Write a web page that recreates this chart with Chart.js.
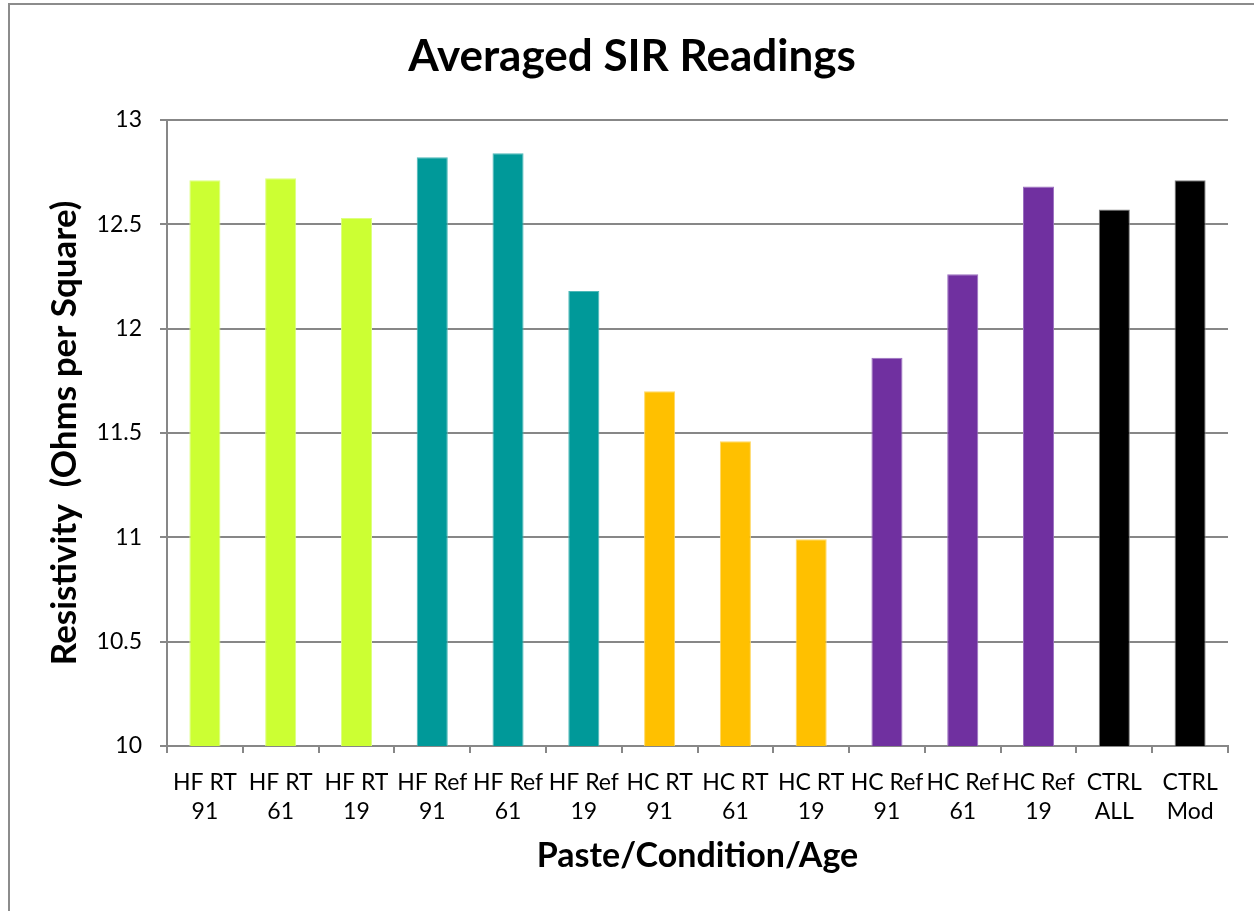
<!DOCTYPE html>
<html>
<head>
<meta charset="utf-8">
<script src="https://cdn.jsdelivr.net/npm/chart.js@4"></script>
<style>
  html, body { margin: 0; padding: 0; background: #ffffff; }
  #wrap { width: 1254px; height: 911px; }
</style>
</head>
<body>
<div id="wrap"><canvas id="c" width="1254" height="911"></canvas></div>
<script>
const chartTitle = "Averaged SIR Readings";
const xAxisTitle = "Paste/Condition/Age";
const yAxisTitle = "Resistivity  (Ohms per Square)";
const categories = [
  ["HF RT", "91"], ["HF RT", "61"], ["HF RT", "19"],
  ["HF Ref", "91"], ["HF Ref", "61"], ["HF Ref", "19"],
  ["HC RT", "91"], ["HC RT", "61"], ["HC RT", "19"],
  ["HC Ref", "91"], ["HC Ref", "61"], ["HC Ref", "19"],
  ["CTRL", "ALL"], ["CTRL", "Mod"]
];
const values = [12.71, 12.72, 12.53, 12.82, 12.84, 12.18, 11.70, 11.46, 10.99, 11.86, 12.26, 12.68, 12.57, 12.71];
const groups = ["HF RT", "HF RT", "HF RT", "HF Ref", "HF Ref", "HF Ref", "HC RT", "HC RT", "HC RT", "HC Ref", "HC Ref", "HC Ref", "CTRL", "CTRL"];
const yMin = 10, yMax = 13, yStep = 0.5;

const groupFill = { "HF RT": "#CCFF33", "HF Ref": "#009999", "HC RT": "#FFC000", "HC Ref": "#7030A0", "CTRL": "#000000" };
const groupEdge = { "HF RT": "#DDFF80", "HF Ref": "#4DB8B8", "HC RT": "#FFD966", "HC Ref": "#9B70C0", "CTRL": "#808080" };
const GRAY = "#878787";

const framePlugin = {
  id: "frame",
  beforeDraw(chart) {
    const ctx = chart.ctx;
    ctx.save();
    ctx.fillStyle = "#ffffff";
    ctx.fillRect(0, 0, chart.width, chart.height);
    ctx.strokeStyle = "#8c8c8c";
    ctx.lineWidth = 2;
    ctx.beginPath();
    ctx.moveTo(9, chart.height);
    ctx.lineTo(9, 4);
    ctx.lineTo(chart.width, 4);
    ctx.stroke();
    ctx.restore();
  }
};

new Chart(document.getElementById("c"), {
  type: "bar",
  data: {
    labels: categories,
    datasets: [{
      data: values,
      backgroundColor: groups.map(g => groupFill[g]),
      borderColor: groups.map(g => groupEdge[g]),
      borderWidth: 1,
      barPercentage: 0.41,
      categoryPercentage: 1.0
    }]
  },
  options: {
    responsive: false,
    animation: false,
    devicePixelRatio: 1,
    layout: { padding: { left: 36, right: 26, top: 0, bottom: 0 } },
    plugins: {
      legend: { display: false },
      tooltip: { enabled: false },
      title: {
        display: true,
        text: chartTitle,
        color: "#000000",
        font: { family: "Lato", size: 44, weight: "bold" },
        padding: { top: 30, bottom: 37 }
      }
    },
    scales: {
      x: {
        grid: { drawOnChartArea: false, drawTicks: true, tickLength: 7, color: GRAY, lineWidth: 2, offset: true },
        border: { display: true, color: GRAY, width: 2 },
        ticks: {
          color: "#000000",
          font: { family: "Lato", size: 23, lineHeight: 1.25 },
          padding: 15,
          maxRotation: 0,
          autoSkip: false
        },
        title: {
          display: true,
          text: xAxisTitle,
          color: "#000000",
          font: { family: "Lato", size: 34, weight: "bold" },
          padding: { top: 0, bottom: 35 }
        },
        afterFit(scale) { scale.height = 165; }
      },
      y: {
        min: yMin,
        max: yMax,
        grid: { drawTicks: true, tickLength: 7, color: GRAY, lineWidth: 2 },
        border: { display: true, color: GRAY, width: 2 },
        ticks: {
          stepSize: yStep,
          color: "#000000",
          font: { family: "Lato", size: 23 },
          padding: 18,
          callback: v => String(v)
        },
        title: {
          display: true,
          text: yAxisTitle,
          color: "#000000",
          font: { family: "Lato", size: 35, weight: "bold" },
          padding: { top: 8, bottom: 0 }
        },
        afterFit(scale) { scale.width = 131; }
      }
    }
  },
  plugins: [framePlugin]
});
</script>
</body>
</html>
